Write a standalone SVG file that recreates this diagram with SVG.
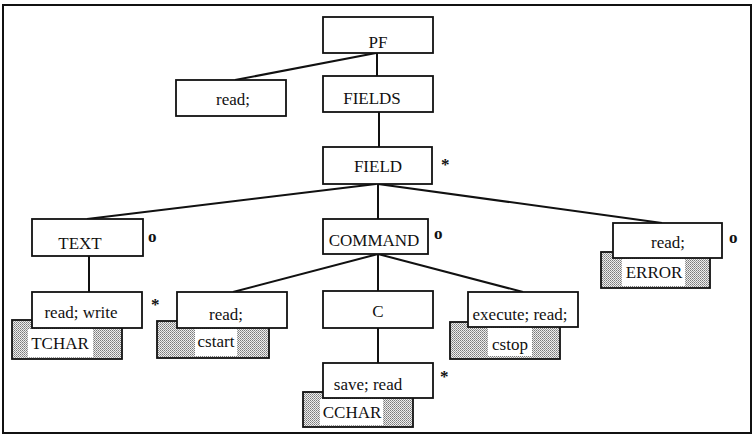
<svg xmlns="http://www.w3.org/2000/svg" width="755" height="436" viewBox="0 0 755 436">
<defs>
<pattern id="dots" width="2" height="2" patternUnits="userSpaceOnUse">
<rect width="2" height="2" fill="#eeeeee"/>
<rect width="1" height="1" fill="#7a7a7a"/>
<rect x="1" y="1" width="1" height="1" fill="#9a9a9a"/>
</pattern>
<style>
.box{fill:#fff;stroke:#111;stroke-width:1.8}
.sh{fill:url(#dots);stroke:#111;stroke-width:1.8}
.wb{fill:#fff}
.t{font-size:17px;fill:#111;text-anchor:middle}
.m{font-size:17px;fill:#111;font-weight:bold}
.ln{stroke:#111;stroke-width:2;fill:none}
</style>
</defs>
<rect x="3" y="5" width="748" height="428" fill="#fff" stroke="#111" stroke-width="2"/>
<g id="connectors">
<line class="ln" x1="376" y1="53" x2="235" y2="80"/>
<line class="ln" x1="377" y1="53" x2="377" y2="76"/>
<line class="ln" x1="379" y1="112" x2="379" y2="147"/>
<line class="ln" x1="376" y1="184" x2="87" y2="219"/>
<line class="ln" x1="378" y1="184" x2="378" y2="219"/>
<line class="ln" x1="378" y1="184" x2="662" y2="223"/>
<line class="ln" x1="89" y1="256" x2="89" y2="292"/>
<line class="ln" x1="378" y1="254" x2="233" y2="292"/>
<line class="ln" x1="378" y1="254" x2="378" y2="291"/>
<line class="ln" x1="378" y1="254" x2="523" y2="292"/>
<line class="ln" x1="378" y1="328" x2="378" y2="363"/>
</g>
<g font-family="'Liberation Serif', Tinos, 'Times New Roman', 'DejaVu Serif', serif">
<g id="pf"><rect class="box" x="323" y="17" width="110" height="36"/><text class="t" x="378" y="48">PF</text></g>
<g id="read-pf"><rect class="box" x="176" y="80" width="110" height="36"/><text class="t" x="233" y="105">read;</text></g>
<g id="fields"><rect class="box" x="323" y="76" width="110" height="36"/><text class="t" x="372" y="104">FIELDS</text></g>
<g id="field"><rect class="box" x="323" y="147" width="109" height="37"/><text class="t" x="378" y="172">FIELD</text><text class="m" x="441" y="170">*</text></g>
<g id="text"><rect class="box" x="32" y="219" width="111" height="37"/><text class="t" x="80" y="249">TEXT</text><text class="m" x="148" y="242">o</text></g>
<g id="command"><rect class="box" x="323" y="219" width="105" height="35"/><text class="t" x="374" y="246">COMMAND</text><text class="m" x="434" y="239">o</text></g>
<g id="error"><rect class="sh" x="601" y="252" width="109" height="36"/><rect class="wb" x="622" y="259" width="63" height="27"/><text class="t" x="654" y="278">ERROR</text></g>
<g id="read-error"><rect class="box" x="613" y="223" width="109" height="35"/><text class="t" x="668" y="248">read;</text><text class="m" x="729" y="243">o</text></g>
<g id="tchar"><rect class="sh" x="12" y="320" width="110" height="39"/><rect class="wb" x="28" y="329" width="65" height="28"/><text class="t" x="60" y="349">TCHAR</text></g>
<g id="read-write"><rect class="box" x="32" y="292" width="110" height="36"/><text class="t" x="81" y="318">read; write</text><text class="m" x="151" y="310">*</text></g>
<g id="cstart"><rect class="sh" x="157" y="321" width="112" height="37"/><rect class="wb" x="195" y="329" width="42" height="27"/><text class="t" x="216" y="347">cstart</text></g>
<g id="read-cstart"><rect class="box" x="177" y="292" width="110" height="36"/><text class="t" x="226" y="320">read;</text></g>
<g id="c"><rect class="box" x="323" y="291" width="110" height="37"/><text class="t" x="378" y="317">C</text></g>
<g id="cstop"><rect class="sh" x="450" y="322" width="110" height="37"/><rect class="wb" x="488" y="328" width="44" height="28"/><text class="t" x="510" y="350">cstop</text></g>
<g id="execute-read"><rect class="box" x="468" y="292" width="110" height="35"/><text class="t" x="520" y="320">execute; read;</text></g>
<g id="cchar"><rect class="sh" x="303" y="392" width="110" height="35"/><rect class="wb" x="320" y="399" width="63" height="26"/><text class="t" x="352" y="418">CCHAR</text></g>
<g id="save-read"><rect class="box" x="323" y="363" width="110" height="35"/><text class="t" x="368" y="390">save; read</text><text class="m" x="440" y="382">*</text></g>
</g>
</svg>
